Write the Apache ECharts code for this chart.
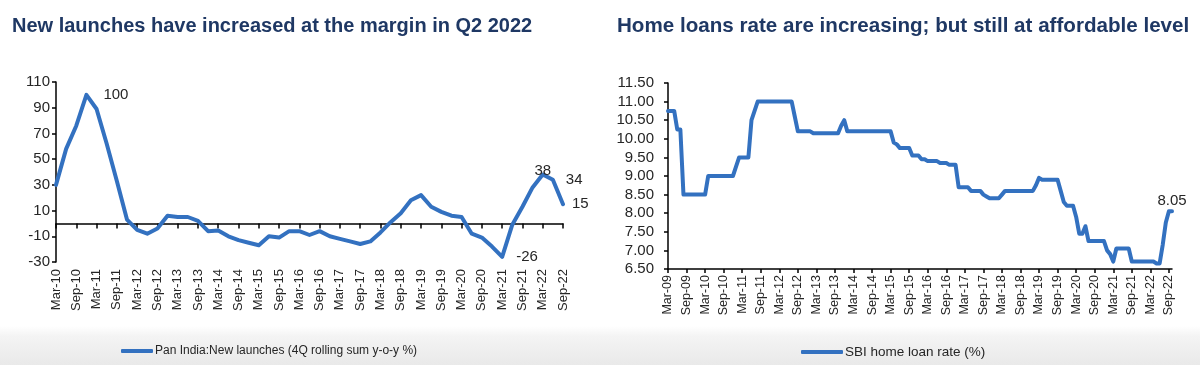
<!DOCTYPE html>
<html><head><meta charset="utf-8">
<script src="https://cdn.jsdelivr.net/npm/echarts@6/dist/echarts.min.js"></script>
<style>
html,body{margin:0;padding:0;width:1200px;height:365px;overflow:hidden;}
body{background:linear-gradient(to bottom,#ffffff 0px,#ffffff 326px,#f4f4f4 336px,#e9e9e9 365px);}
#c{width:1200px;height:365px;}
</style></head><body><div id="c"></div>
<script>
// ---------- Titles & legend names ----------
const leftTitle = 'New launches have increased at the margin in Q2 2022';
const rightTitle = 'Home loans rate are increasing; but still at affordable level';
const leftSeriesName = 'Pan India:New launches (4Q rolling sum y-o-y %)';
const rightSeriesName = 'SBI home loan rate (%)';

// ---------- Left chart: quarterly categories Mar-10 .. Sep-22 ----------
const quarterMonths = ['Mar', 'Jun', 'Sep', 'Dec'];
const leftYears = ['10','11','12','13','14','15','16','17','18','19','20','21','22'];
const leftCategories = [];
leftYears.forEach(y => quarterMonths.forEach(m => leftCategories.push(m + '-' + y)));
leftCategories.length = 51; // ends at Sep-22

const leftValues = [
  30, 58, 76, 100, 89, 62, 33, 3,
  -5, -8, -4, 6, 5, 5, 2, -6,
  -5.5, -10, -13, -15, -17, -10, -11, -6,
  -6, -9, -6, -10, -12, -14, -16, -14,
  -7, 1, 8, 18, 22, 13, 9, 6,
  5, -8, -11, -18, -26, -1, 13, 28,
  38, 34, 15
];
const leftYTicks = { min: -30, max: 110, interval: 20 };

// ---------- Right chart: monthly categories Mar-09 .. Oct-22 ----------
const monthNames = ['Jan','Feb','Mar','Apr','May','Jun','Jul','Aug','Sep','Oct','Nov','Dec'];
const rightYears = ['09','10','11','12','13','14','15','16','17','18','19','20','21','22'];
const rightCategories = [];
rightYears.forEach(y => monthNames.forEach(m => rightCategories.push(m + '-' + y)));
rightCategories.splice(0, 2);          // start at Mar-09
rightCategories.length = 164;          // end at Oct-22

const rightValues = [
  // 2009 Mar-Dec
  10.75, 10.75, 10.75, 10.25, 10.25, 8.5, 8.5, 8.5, 8.5, 8.5,
  // 2010
  8.5, 8.5, 8.5, 9.0, 9.0, 9.0, 9.0, 9.0, 9.0, 9.0, 9.0, 9.0,
  // 2011
  9.25, 9.5, 9.5, 9.5, 9.5, 10.5, 10.75, 11.0, 11.0, 11.0, 11.0, 11.0,
  // 2012
  11.0, 11.0, 11.0, 11.0, 11.0, 11.0, 11.0, 10.6, 10.2, 10.2, 10.2, 10.2,
  // 2013
  10.2, 10.15, 10.15, 10.15, 10.15, 10.15, 10.15, 10.15, 10.15, 10.15, 10.35, 10.5,
  // 2014
  10.2, 10.2, 10.2, 10.2, 10.2, 10.2, 10.2, 10.2, 10.2, 10.2, 10.2, 10.2,
  // 2015
  10.2, 10.2, 10.2, 9.9, 9.85, 9.75, 9.75, 9.75, 9.75, 9.55, 9.55, 9.55,
  // 2016
  9.45, 9.45, 9.4, 9.4, 9.4, 9.4, 9.35, 9.35, 9.35, 9.3, 9.3, 9.3,
  // 2017
  8.7, 8.7, 8.7, 8.7, 8.6, 8.6, 8.6, 8.6, 8.5, 8.45, 8.4, 8.4,
  // 2018
  8.4, 8.4, 8.5, 8.6, 8.6, 8.6, 8.6, 8.6, 8.6, 8.6, 8.6, 8.6,
  // 2019
  8.6, 8.75, 8.95, 8.9, 8.9, 8.9, 8.9, 8.9, 8.9, 8.6, 8.3, 8.2,
  // 2020
  8.2, 8.2, 7.9, 7.45, 7.45, 7.65, 7.25, 7.25, 7.25, 7.25, 7.25, 7.25,
  // 2021
  7.0, 6.9, 6.7, 7.05, 7.05, 7.05, 7.05, 7.05, 6.7, 6.7, 6.7, 6.7,
  // 2022 Jan-Oct
  6.7, 6.7, 6.7, 6.7, 6.65, 6.65, 7.15, 7.75, 8.05, 8.05
];
const rightYTicks = { min: 6.5, max: 11.5, interval: 0.5 };

// ---------- Styling ----------
const FONT = 'Liberation Sans';
const LINE_COLOR = '#3371c0';
const TEXT = '#262626';
const TITLE_COLOR = '#1f3864';

const leftLabelCfg = {
  3:  { show: true, position: 'right', distance: 17 },
  44: { show: true, position: 'right', distance: 14, offset: [0, 5] },
  48: { show: true, position: 'top', distance: -4 },
  49: { show: true, position: 'right', distance: 13 },
  50: { show: true, position: 'right', distance: 9 }
};
const rightLabelCfg = {
  163: { show: true, position: 'top', distance: 3 }
};

function withLabels(values, cfg) {
  return values.map((v, i) => cfg[i] ? { value: v, label: cfg[i] } : v);
}

const axisLineStyle = { color: '#000', width: 1.5 };

const option = {
  animation: false,
  textStyle: { fontFamily: FONT },
  title: [
    { text: leftTitle, left: 7, top: 11,
      textStyle: { fontFamily: FONT, fontSize: 20, fontWeight: 'bold', color: TITLE_COLOR } },
    { text: rightTitle, left: 612, top: 11,
      textStyle: { fontFamily: FONT, fontSize: 20.6, fontWeight: 'bold', color: TITLE_COLOR } }
  ],
  legend: [
    { data: [leftSeriesName], left: 116, top: 340, icon: 'roundRect', itemWidth: 32, itemHeight: 4, itemGap: 4,
      textStyle: { fontFamily: FONT, fontSize: 12, color: TEXT, padding: [0, 0, 0, -3] } },
    { data: [rightSeriesName], left: 796, top: 340, icon: 'roundRect', itemWidth: 42, itemHeight: 4,
      textStyle: { fontFamily: FONT, fontSize: 13.5, color: TEXT, padding: [0, 0, 0, -3] } }
  ],
  grid: [
    { left: 56, top: 82, width: 507, height: 180 },
    { left: 668, top: 83, width: 504, height: 186 }
  ],
  xAxis: [
    { // zero line with ticks (left)
      type: 'category', gridIndex: 0, data: leftCategories, boundaryGap: false,
      axisLine: { show: true, onZero: true, lineStyle: axisLineStyle },
      axisTick: { show: true, interval: 1, length: 5, lineStyle: axisLineStyle },
      axisLabel: { show: false }, splitLine: { show: false }
    },
    { // labels at bottom (left)
      type: 'category', gridIndex: 0, data: leftCategories, boundaryGap: false, position: 'bottom',
      axisLine: { show: false, onZero: false },
      axisTick: { show: false },
      axisLabel: { show: true, interval: 1, rotate: 90, fontSize: 13, color: TEXT, margin: 7, fontFamily: FONT },
      splitLine: { show: false }
    },
    { // right chart x
      type: 'category', gridIndex: 1, data: rightCategories, boundaryGap: false,
      axisLine: { show: true, onZero: false, lineStyle: axisLineStyle },
      axisTick: { show: true, interval: 5, length: 4, lineStyle: axisLineStyle },
      axisLabel: { show: true, interval: 5, rotate: 90, fontSize: 12.5, color: TEXT, margin: 6, fontFamily: FONT },
      splitLine: { show: false }
    }
  ],
  yAxis: [
    { type: 'value', gridIndex: 0, min: leftYTicks.min, max: leftYTicks.max, interval: leftYTicks.interval,
      axisLine: { show: true, lineStyle: axisLineStyle },
      axisTick: { show: true, length: 4, lineStyle: axisLineStyle },
      axisLabel: { fontSize: 15, color: TEXT, margin: 6, fontFamily: FONT },
      splitLine: { show: false } },
    { type: 'value', gridIndex: 1, min: rightYTicks.min, max: rightYTicks.max, interval: rightYTicks.interval,
      axisLine: { show: true, lineStyle: axisLineStyle },
      axisTick: { show: true, length: 4, lineStyle: axisLineStyle },
      axisLabel: { fontSize: 15, color: TEXT, margin: 14, fontFamily: FONT, formatter: v => v.toFixed(2) },
      splitLine: { show: false } }
  ],
  series: [
    { name: leftSeriesName, type: 'line', xAxisIndex: 0, yAxisIndex: 0,
      data: withLabels(leftValues, leftLabelCfg),
      symbol: 'circle', symbolSize: 0, showSymbol: true, showAllSymbol: true,
      lineStyle: { color: LINE_COLOR, width: 4, join: 'round', cap: 'round' },
      itemStyle: { color: LINE_COLOR },
      label: { show: false, fontSize: 15, color: TEXT, fontFamily: FONT },
      labelLayout: { hideOverlap: false },
      emphasis: { disabled: true } },
    { name: rightSeriesName, type: 'line', xAxisIndex: 2, yAxisIndex: 1,
      data: withLabels(rightValues, rightLabelCfg),
      symbol: 'circle', symbolSize: 0, showSymbol: true, showAllSymbol: true,
      lineStyle: { color: LINE_COLOR, width: 4, join: 'round', cap: 'round' },
      itemStyle: { color: LINE_COLOR },
      label: { show: false, fontSize: 15, color: TEXT, fontFamily: FONT, formatter: p => p.value.toFixed(2) },
      emphasis: { disabled: true } }
  ]
};

const chart = echarts.init(document.getElementById('c'), null, { renderer: 'canvas' });
chart.setOption(option);
</script>
</body></html>
